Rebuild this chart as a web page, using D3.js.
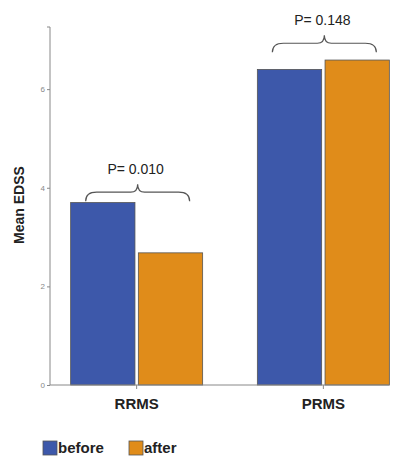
<!DOCTYPE html>
<html><head><meta charset="utf-8">
<script src="https://cdn.jsdelivr.net/npm/d3@7"></script>
<style>body{margin:0;background:#fff}svg{display:block}</style>
</head><body>
<script>
const categories = ["RRMS", "PRMS"];
const seriesNames = ["before", "after"];
const beforeValues = [3.70, 6.40];
const afterValues = [2.68, 6.59];
const pLabels = ["P= 0.010", "P= 0.148"];
const braceLevels = [3.91, 6.93];
const yTicks = [0, 2, 4, 6];
const colors = ["#3d58aa", "#e08c1a"];

const W = 400, H = 458;
const svg = d3.select("body").append("svg").attr("width", W).attr("height", H)
  .style("font-family", "Arial, 'Liberation Sans', sans-serif");

const y = d3.scaleLinear().domain([0, 7.26]).range([385, 27]);
const x0 = d3.scaleBand().domain(categories).range([43.3, 416.7]).padding(0);
const x1 = d3.scaleBand().domain(seriesNames).range([-66, 66]).paddingInner(0.05).paddingOuter(0);

const data = categories.map((c, i) => ({cat: c, vals: [beforeValues[i], afterValues[i]]}));

// y axis
const yAxis = d3.axisLeft(y).tickValues(yTicks).tickSize(3).tickFormat(d3.format("d"));
const gy = svg.append("g").attr("transform", "translate(50,0)").call(yAxis);
gy.select(".domain").attr("stroke", "#888").attr("d", `M-3,${y(7.26)}H0V${y(0)}`);
gy.selectAll(".tick line").attr("stroke", "#888");
gy.selectAll(".tick text").attr("fill", "#888").attr("font-size", 8).attr("dx", 1);

// bars
const groups = svg.append("g").selectAll("g").data(data).join("g")
  .attr("transform", d => `translate(${x0(d.cat) + x0.bandwidth()/2},0)`);
groups.selectAll("rect").data(d => d.vals.map((v, j) => ({v, s: seriesNames[j], j})))
  .join("rect")
  .attr("x", d => x1(d.s)).attr("width", x1.bandwidth())
  .attr("y", d => y(d.v)).attr("height", d => y(0) - y(d.v))
  .attr("fill", d => colors[d.j]).attr("stroke", "#555").attr("stroke-width", 0.8);

// x axis
const xEnd = x0("PRMS") + x0.bandwidth()/2 + x1("after") + x1.bandwidth();
svg.append("line").attr("x1", 50).attr("x2", xEnd).attr("y1", y(0)).attr("y2", y(0))
  .attr("stroke", "#888").attr("stroke-width", 1);
categories.forEach(c => {
  const cx = x0(c) + x0.bandwidth()/2;
  svg.append("line").attr("x1", cx).attr("x2", cx).attr("y1", y(0)).attr("y2", y(0) + 4).attr("stroke", "#888");
  svg.append("text").attr("x", cx).attr("y", 409).attr("text-anchor", "middle")
    .attr("font-size", 15).attr("font-weight", "bold").attr("fill", "#222").text(c);
});

// y label
svg.append("text").attr("transform", "translate(24,205) rotate(-90)").attr("text-anchor", "middle")
  .attr("font-size", 14).attr("font-weight", "bold").attr("fill", "#222").text("Mean EDSS");

// braces
data.forEach((d, i) => {
  const cx = x0(d.cat) + x0.bandwidth()/2;
  const left = cx + x1("before") + 15, right = cx + x1("after") + x1.bandwidth() - 13;
  const mid = (left + right) / 2;
  const yl = y(braceLevels[i]);
  const r = 7;
  const path = `M${left},${yl + 9} Q${left},${yl} ${left + r + 4},${yl} L${mid - r},${yl} Q${mid},${yl} ${mid},${yl - 8} Q${mid},${yl} ${mid + r},${yl} L${right - r - 4},${yl} Q${right},${yl} ${right},${yl + 9}`;
  svg.append("path").attr("d", path).attr("fill", "none").attr("stroke", "#555").attr("stroke-width", 1.2);
  svg.append("text").attr("x", mid - 2).attr("y", yl - 18).attr("text-anchor", "middle")
    .attr("font-size", 14).attr("fill", "#222").text(pLabels[i]);
});

// legend
const legX = [43, 129];
seriesNames.forEach((s, j) => {
  svg.append("rect").attr("x", legX[j]).attr("y", 441).attr("width", 14).attr("height", 14)
    .attr("fill", colors[j]).attr("stroke", "#555").attr("stroke-width", 0.8);
  svg.append("text").attr("x", legX[j] + 15).attr("y", 453).attr("font-size", 15)
    .attr("font-weight", "bold").attr("fill", "#222").text(s);
});
</script>
</body></html>
